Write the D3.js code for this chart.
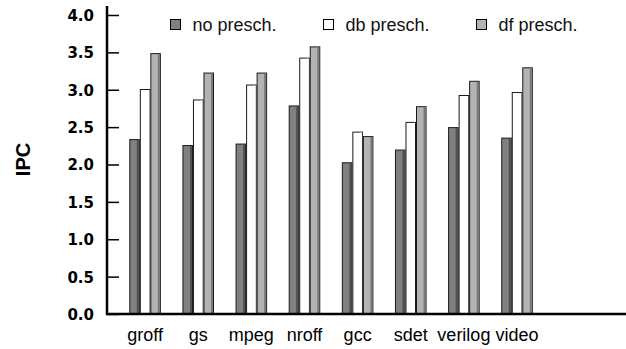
<!DOCTYPE html>
<html><head><meta charset="utf-8">
<script src="https://cdn.jsdelivr.net/npm/d3@7"></script>
<style>body{margin:0;background:#fff}svg{display:block}</style>
</head><body>
<svg id="c" width="626" height="349"></svg>
<script>
const categories = ["groff","gs","mpeg","nroff","gcc","sdet","verilog","video"];
const seriesNames = ["no presch.","db presch.","df presch."];
const noPresch = [2.34,2.26,2.28,2.79,2.03,2.20,2.50,2.36];
const dbPresch = [3.01,2.87,3.07,3.43,2.44,2.57,2.93,2.97];
const dfPresch = [3.49,3.23,3.23,3.58,2.38,2.78,3.12,3.30];
const yTicks = [0,0.5,1,1.5,2,2.5,3,3.5,4];

const series = [noPresch, dbPresch, dfPresch];
const fills = ["#808080","#ffffff","#b3b3b3"];
const shades = ["#505050","#ffffff","#7a7a7a"];

const svg = d3.select("#c");
const x0 = 107, y0 = 314;
const y = d3.scaleLinear().domain([0,4]).range([314,15]);
const x = d3.scaleBand().domain(categories).range([129.3,532.8]).paddingInner(0.406).paddingOuter(0);
const xs = d3.scaleBand().domain(d3.range(3)).range([0,x.bandwidth()]).padding(0);

// bars
const groups = svg.append("g").selectAll("g").data(categories).join("g")
  .attr("transform", d => `translate(${x(d)},0)`);
groups.each(function(cat, ci){
  const g = d3.select(this);
  series.forEach((s, si) => {
    const bx = xs(si), bw = xs.bandwidth(), top = y(s[ci]);
    g.append("rect").attr("x", bx+0.5).attr("y", top+0.5)
      .attr("width", bw-1).attr("height", y0-top-0.5)
      .attr("fill", fills[si]).attr("stroke", "#1a1a1a").attr("stroke-width", 1);
    g.append("rect").attr("x", bx+bw-3).attr("y", top+1)
      .attr("width", 2).attr("height", y0-top-1)
      .attr("fill", shades[si]);
  });
});

// y axis
const yAxis = svg.append("g").attr("transform", `translate(${x0},0)`)
  .call(d3.axisLeft(y).tickValues(yTicks).tickFormat(d3.format(".1f")).tickSizeInner(-12).tickSizeOuter(0).tickPadding(13));
yAxis.select(".domain").remove();
yAxis.selectAll(".tick line").attr("stroke", "#000").attr("stroke-width", 1.5);
yAxis.selectAll(".tick text").attr("font-family", "DejaVu Sans, sans-serif").attr("font-weight", "bold")
  .attr("font-size", 15).attr("fill", "#000").attr("dy", "0.36em");
svg.append("line").attr("x1", x0).attr("x2", x0).attr("y1", 6).attr("y2", y0+1)
  .attr("stroke", "#000").attr("stroke-width", 2.5);

// x axis
const xAxis = svg.append("g").attr("transform", `translate(0,${y0})`)
  .call(d3.axisBottom(x).tickSize(0).tickPadding(0));
xAxis.select(".domain").remove();
xAxis.selectAll(".tick text").attr("font-family", "Liberation Sans, Arial, sans-serif")
  .attr("font-size", 18).attr("fill", "#000").attr("dy", 0).attr("y", 27);
svg.append("line").attr("x1", x0-1).attr("x2", 626).attr("y1", y0).attr("y2", y0)
  .attr("stroke", "#000").attr("stroke-width", 2.5);

// y label
svg.append("text").attr("transform", "translate(30,159.5) rotate(-90)")
  .attr("text-anchor", "middle").attr("font-family", "Liberation Sans, Arial, sans-serif")
  .attr("font-weight", "bold").attr("font-size", 20).text("IPC");

// legend
const legX = [170, 323, 476];
const leg = svg.append("g").selectAll("g").data(seriesNames).join("g")
  .attr("transform", (d,i) => `translate(${legX[i]},0)`);
leg.append("rect").attr("x", 0.5).attr("y", 19.5).attr("width", 10).attr("height", 10)
  .attr("fill", (d,i) => fills[i]).attr("stroke", "#000").attr("stroke-width", 1);
leg.append("text").attr("x", 22.5).attr("y", 31).attr("font-family", "Liberation Sans, Arial, sans-serif")
  .attr("font-size", 18).attr("fill", "#111").text(d => d);
</script>
</body></html>
